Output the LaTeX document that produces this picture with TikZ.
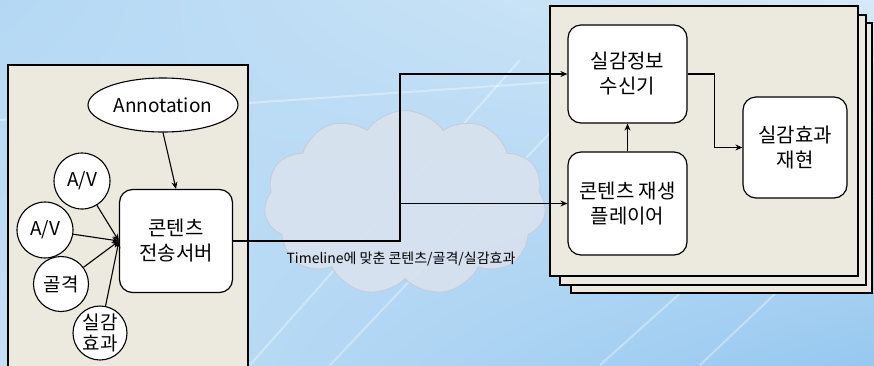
\documentclass[tikz,border=0pt]{standalone}
\usepackage{fontspec}
\setmainfont{Noto Sans CJK KR}
\usetikzlibrary{shapes.geometric,shapes.symbols,arrows.meta,shadings}
\definecolor{panelfill}{HTML}{ECE9DF}
\definecolor{cloudfill}{HTML}{D9E2EE}
\definecolor{cloudline}{HTML}{C4CEDD}
\definecolor{bgul}{RGB}{180,216,244}
\definecolor{bgur}{RGB}{214,233,247}
\definecolor{bgll}{RGB}{196,224,246}
\definecolor{bglr}{RGB}{150,200,240}
\tikzset{
  panel/.style={draw=black, line width=1.1pt, fill=panelfill},
  boxnode/.style={draw=black, line width=1.2pt, fill=white, rounded corners=13pt, align=center, font=\fontsize{20}{25}\selectfont, inner sep=0pt},
  circnode/.style={draw=black, line width=1.1pt, fill=white, circle, align=center, font=\fontsize{19}{21}\selectfont, inner sep=0pt},
  conn/.style={line width=1.1pt, -{Stealth[length=7pt,width=6pt]}}
}
\begin{document}
\begin{tikzpicture}[x=1pt,y=-1pt]
\useasboundingbox (0,0) rectangle (874,365);
\clip (0,0) rectangle (874,365);
% background
\shade[upper left=bgul, upper right=bgur, lower left=bgll, lower right=bglr]
  (0,0) rectangle (874,365);
\begin{scope}[white, opacity=0.35, line width=2pt]
\draw (250,365) -- (520,60);
\draw (330,365) -- (600,80);
\draw (0,120) -- (874,60);
\draw (600,365) -- (874,120);
\draw (700,365) -- (874,200);
\end{scope}
% cloud
\node[cloud, cloud puffs=11, cloud puff arc=110, aspect=1.55, minimum width=282pt, minimum height=185pt,
      fill=cloudfill, draw=cloudline, line width=1pt, fill opacity=0.9] (cl) at (405,203) {};
% left panel
\draw[panel] (8,65) rectangle (248,372);
% right stacked panels
\draw[panel] (571,23) rectangle (872,293);
\draw[panel] (560,15) rectangle (866,285);
\draw[panel] (550,6) rectangle (858,276);
% left nodes
\node[ellipse, draw=black, line width=1.1pt, fill=white, minimum width=150pt, minimum height=54pt, inner sep=0pt,
      font=\fontsize{19}{22}\selectfont] (ann) at (163,105) {Annotation};
\node[boxnode, minimum width=113pt, minimum height=103pt] (srv) at (176,241) {콘텐츠\\전송서버};
\node[circnode, minimum size=56pt] (av1) at (82,181) {A/V};
\node[circnode, minimum size=56pt] (av2) at (45,230) {A/V};
\node[circnode, minimum size=55pt] (skel) at (61,284) {골격};
\node[circnode, minimum size=54pt] (eff) at (100,333) {실감\\효과};
% right nodes
\node[boxnode, minimum width=119pt, minimum height=98pt] (rcv) at (627.5,74) {실감정보\\수신기};
\node[boxnode, minimum width=119pt, minimum height=103pt] (ply) at (627.5,203.5) {콘텐츠 재생\\플레이어};
\node[boxnode, minimum width=104pt, minimum height=101pt] (rep) at (795,147.5) {실감효과\\재현};
% label
\node[font=\fontsize{14}{16}\selectfont, inner sep=0pt] (tl) at (401,259) {Timeline에 맞춘 콘텐츠/골격/실감효과};
% connectors
\draw[conn] (ann.south) -- (srv.north);
\draw[conn] (av1) -- (srv.west);
\draw[conn] (av2) -- (srv.west);
\draw[conn] (skel) -- (srv.west);
\draw[conn] (eff) -- (srv.west);
\coordinate (j) at (400,241);
\draw[conn] (srv.east) -- (j) |- (rcv.west);
\draw[conn] (j |- ply.west) -- (ply.west);
\draw[conn] (ply.north) -- (rcv.south);
\draw[conn] (rcv.east) -- ++(27,0) |- (rep.west);
\end{tikzpicture}
\end{document}
